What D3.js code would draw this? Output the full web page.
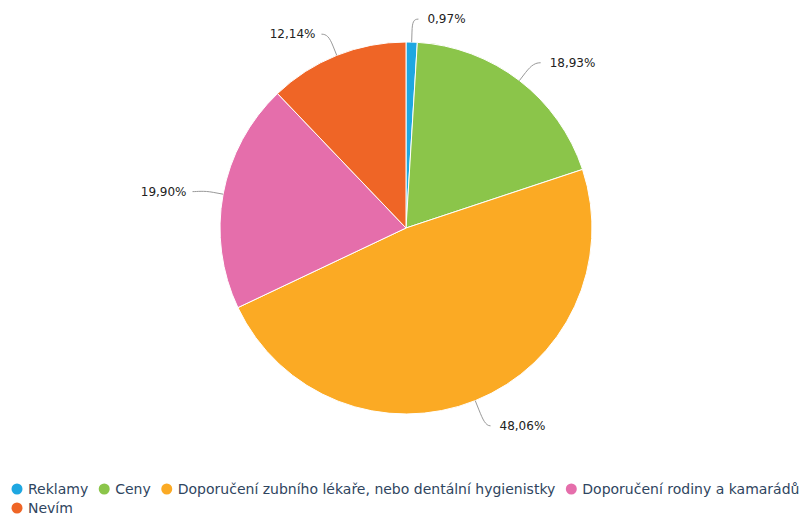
<!DOCTYPE html>
<html>
<head>
<meta charset="utf-8">
<script src="https://cdn.jsdelivr.net/npm/d3@7"></script>
<style>
  html, body { margin: 0; padding: 0; background: #fff; }
  svg { display: block; }
</style>
</head>
<body>
<svg id="chart" width="800" height="516"></svg>
<script>
// Odkud se respondenti dozvěděli o produktu (podíl odpovědí v %)
const categories = [
  "Reklamy",
  "Ceny",
  "Doporučení zubního lékaře, nebo dentální hygienistky",
  "Doporučení rodiny a kamarádů",
  "Nevím"
];
const values = [0.97, 18.93, 48.06, 19.90, 12.14];
const colors = ["#1ea7e1", "#8bc54a", "#fbaa24", "#e56eab", "#ef6526"];

const svg = d3.select("#chart");
const W = 800;
const cx = 406, cy = 228, radius = 186;
const labelRadius = radius + 25;

const data = categories.map((c, i) => ({ name: c, value: values[i], color: colors[i] }));

const pie = d3.pie().sort(null).value(d => d.value);
const arcs = pie(data);
const arc = d3.arc().innerRadius(0).outerRadius(radius);

const g = svg.append("g").attr("transform", `translate(${cx},${cy})`);

g.selectAll("path.slice")
  .data(arcs)
  .join("path")
  .attr("class", "slice")
  .attr("d", arc)
  .attr("fill", d => d.data.color)
  .attr("stroke", "#fff")
  .attr("stroke-width", 1)
  .attr("stroke-linejoin", "round");

// Popisky s odsazenými spojnicemi
const fmt = v => d3.format(".2f")(v).replace(".", ",") + "%";

function polar(r, a) {
  return [r * Math.sin(a), -r * Math.cos(a)];
}

arcs.forEach(d => {
  const a = (d.startAngle + d.endAngle) / 2;
  const right = Math.sin(a) >= 0;
  const [nx, ny0] = polar(labelRadius, a);
  const ny = ny0 + 2;
  const touch = polar(radius, a);
  const brk = polar(radius + 10, a);
  const endX = nx + (right ? 6 : -6);
  const endY = ny;
  const c1x = endX + (right ? -5 : 5);
  const c2x = 2 * brk[0] - touch[0], c2y = 2 * brk[1] - touch[1];
  const path = `M${endX},${endY} C${c1x},${endY} ${c2x},${c2y} ${brk[0]},${brk[1]} L${touch[0]},${touch[1]}`;
  g.append("path")
    .attr("d", path)
    .attr("fill", "none")
    .attr("stroke", "#999")
    .attr("stroke-width", 1);
  g.append("text")
    .attr("x", nx + (right ? 15 : -12))
    .attr("y", endY)
    .attr("dy", "0.35em")
    .attr("text-anchor", right ? "start" : "end")
    .attr("font-family", "'DejaVu Sans', sans-serif")
    .attr("font-size", 12)
    .attr("fill", "#222")
    .text(fmt(d.data.value));
});

// Legenda
const legend = svg.append("g").attr("font-family", "'DejaVu Sans', sans-serif")
  .attr("font-size", 14).attr("fill", "#2f4560");
let lx = 28, ly = 494;
const rowH = 19, maxX = W;
data.forEach(d => {
  const item = legend.append("g");
  const t = item.append("text").attr("x", 0).attr("y", 0).text(d.name);
  const w = t.node().getComputedTextLength();
  if (lx + w > maxX && lx > 28) { lx = 28; ly += rowH; }
  item.attr("transform", `translate(${lx},${ly})`);
  item.insert("circle", "text").attr("cx", -11).attr("cy", -5).attr("r", 5.5).attr("fill", d.color);
  lx += w + 27;
});
</script>
</body>
</html>
